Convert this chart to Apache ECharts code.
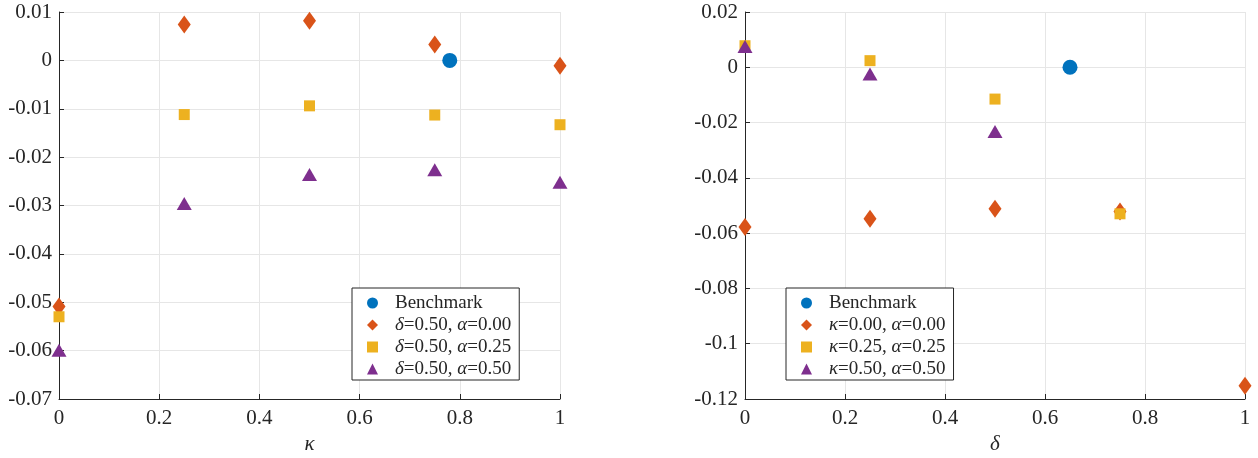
<!DOCTYPE html>
<html>
<head>
<meta charset="utf-8">
<script src="https://cdn.jsdelivr.net/npm/echarts@6/dist/echarts.min.js"></script>
<style>
  html, body { margin: 0; padding: 0; background: #fff; }
  #chart { width: 1258px; height: 458px; }
</style>
</head>
<body>
<div id="chart"></div>
<script>
// Left panel: sensitivity to kappa
const kappaGrid = [0, 0.25, 0.5, 0.75, 1];
const leftBenchmark = [[0.78, 0]];
const leftD50A00 = [-0.0509, 0.0074, 0.0082, 0.0033, -0.0011];
const leftD50A25 = [-0.0530, -0.0112, -0.0094, -0.0113, -0.0133];
const leftD50A50 = [-0.0599, -0.0296, -0.0236, -0.0226, -0.0252];
const leftNames = ['Benchmark', 'δ=0.50, α=0.00', 'δ=0.50, α=0.25', 'δ=0.50, α=0.50'];

// Right panel: sensitivity to delta
const deltaD = [0, 0.25, 0.5, 0.75, 1];
const deltaS = [0, 0.25, 0.5, 0.75];
const deltaT = [0, 0.25, 0.5];
const rightBenchmark = [[0.65, 0]];
const rightK00A00 = [-0.0578, -0.0548, -0.0512, -0.0522, -0.1152];
const rightK25A25 = [0.0078, 0.0024, -0.0115, -0.0530];
const rightK50A50 = [0.0075, -0.0024, -0.0232];
const rightNames = ['Benchmark ', 'κ=0.00, α=0.00', 'κ=0.25, α=0.25', 'κ=0.50, α=0.50'];

const FONT = '"Liberation Serif", "DejaVu Serif", serif';
const INK = '#262626';
const COLORS = ['#0072BD', '#D95319', '#EDB120', '#7E2F8E'];
const SYMBOLS = ['circle', 'diamond', 'rect', 'triangle'];
const SIZES = [15, [13, 18], 11, [15, 13]];

const zip = (xs, ys) => xs.map((x, i) => [x, ys[i]]);
const fmt = v => {
  const r = Number(v.toFixed(4));
  return r === 0 ? '0' : String(r);
};

function xAxis(gridIndex, name) {
  return {
    gridIndex, type: 'value', min: 0, max: 1, interval: 0.2,
    name, nameLocation: 'middle', nameGap: 32,
    nameTextStyle: { fontFamily: FONT, fontStyle: 'italic', fontSize: 21, color: INK },
    axisLine: { onZero: false, lineStyle: { color: INK, width: 1 } },
    axisTick: { show: true, inside: true, length: 5, lineStyle: { color: INK } },
    axisLabel: { fontFamily: FONT, fontSize: 21, color: INK, margin: 9, formatter: fmt },
    splitLine: { show: true, lineStyle: { color: '#e6e6e6', width: 1 } }
  };
}
function yAxis(gridIndex, min, max, interval) {
  return {
    gridIndex, type: 'value', min, max, interval,
    axisLine: { show: true, onZero: false, lineStyle: { color: INK, width: 1 } },
    axisTick: { show: true, inside: true, length: 5, lineStyle: { color: INK } },
    axisLabel: { fontFamily: FONT, fontSize: 21, color: INK, margin: 7, formatter: fmt },
    splitLine: { show: true, lineStyle: { color: '#e6e6e6', width: 1 } }
  };
}
function scatter(name, data, k, gi) {
  return {
    type: 'scatter', name, data, xAxisIndex: gi, yAxisIndex: gi,
    symbol: SYMBOLS[k], symbolSize: SIZES[k],
    itemStyle: { color: COLORS[k], opacity: 1 },
    clip: false, emphasis: { disabled: true }
  };
}
function legend(names, left) {
  return {
    orient: 'vertical', left, top: 288,
    data: names.map((n, k) => ({ name: n, icon: SYMBOLS[k] })),
    itemWidth: 11, itemHeight: 11, itemGap: 0,
    padding: [4, 8, 0, 15],
    backgroundColor: '#fff', borderColor: INK, borderWidth: 1,
    selectedMode: false,
    formatter: n => '{sp|}' + n.trim().replace(/([δακ])/g, '{i|$1}'),
    textStyle: {
      fontFamily: FONT, fontSize: 19, color: INK, lineHeight: 22,
      rich: {
        sp: { width: 12 },
        i: { fontFamily: FONT, fontStyle: 'italic', fontSize: 19, color: INK, lineHeight: 22 }
      }
    }
  };
}

const chart = echarts.init(document.getElementById('chart'), null, { renderer: 'canvas' });
chart.setOption({
  animation: false,
  backgroundColor: '#fff',
  grid: [
    { left: 59, top: 12, width: 501, height: 387, containLabel: false, outerBoundsMode: 'none' },
    { left: 745, top: 12, width: 500, height: 387, containLabel: false, outerBoundsMode: 'none' }
  ],
  xAxis: [xAxis(0, 'κ'), xAxis(1, 'δ')],
  yAxis: [yAxis(0, -0.07, 0.01, 0.01), yAxis(1, -0.12, 0.02, 0.02)],
  legend: [legend(leftNames, 352), legend(rightNames, 786)],
  series: [
    scatter(leftNames[0], leftBenchmark, 0, 0),
    scatter(leftNames[1], zip(kappaGrid, leftD50A00), 1, 0),
    scatter(leftNames[2], zip(kappaGrid, leftD50A25), 2, 0),
    scatter(leftNames[3], zip(kappaGrid, leftD50A50), 3, 0),
    scatter(rightNames[0], rightBenchmark, 0, 1),
    scatter(rightNames[1], zip(deltaD, rightK00A00), 1, 1),
    scatter(rightNames[2], zip(deltaS, rightK25A25), 2, 1),
    scatter(rightNames[3], zip(deltaT, rightK50A50), 3, 1)
  ]
});
</script>
</body>
</html>
